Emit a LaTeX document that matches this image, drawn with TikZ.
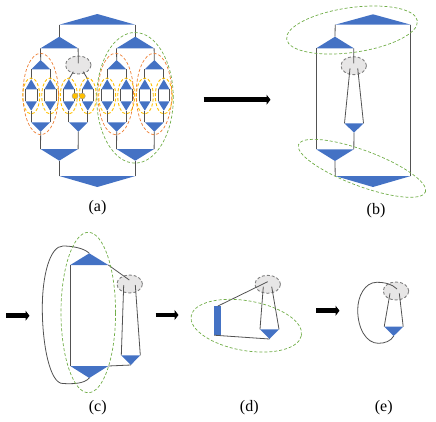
\documentclass[tikz,border=0pt]{standalone}
\usepackage{fontspec}
\setmainfont{Liberation Serif}
\usetikzlibrary{shapes.geometric,arrows.meta}
\definecolor{triblue}{HTML}{4472C4}
\definecolor{greenring}{HTML}{70AD47}
\definecolor{orangering}{HTML}{ED7D31}
\definecolor{yellowring}{HTML}{FFC000}
\definecolor{hubfill}{HTML}{E7E6E6}
\tikzset{
  wire/.style={draw=black!68,line width=0.8pt},
  trifill/.style={fill=triblue,draw=none},
  ring/.style={ellipse,draw,densely dashed,line width=0.7pt,inner sep=0pt,fill=none},
  greenloop/.style={ring,draw=greenring},
  orangeloop/.style={ring,draw=orangering},
  yellowloop/.style={ring,draw=yellowring,line width=0.9pt},
  hub/.style={ellipse,draw=black!50,densely dashed,line width=0.9pt,fill=hubfill,inner sep=0pt,minimum width=25.5pt,minimum height=18pt},
  dot/.style={circle,fill=yellowring,draw=black!40,line width=0.4pt,inner sep=0pt,minimum size=6pt},
  bigarrow/.style={-{Triangle[length=4pt,width=10pt]},line width=4.6pt,black},
  caption/.style={font=\fontsize{16}{18}\selectfont,inner sep=0pt}
}
% name, centre x, base y, apex y, half width
\newcommand{\tri}[5]{%
  \coordinate (#1-l) at ({#2-#5},#3);
  \coordinate (#1-r) at ({#2+#5},#3);
  \coordinate (#1-a) at (#2,#4);
  \fill[trifill] (#1-l) -- (#1-r) -- (#1-a) -- cycle;
}
\begin{document}
\begin{tikzpicture}[x=1pt,y=-1pt]
\useasboundingbox (0,0) rectangle (436,421);

% ---------- panel (a)
\node[hub] (hubA) at (78.3,65) {};
\tri{aT}{97.3}{24.7}{14}{38}
\tri{aZ}{97.3}{176}{187}{38}
\tri{aA}{59.3}{48.3}{36.7}{18.8}
\tri{aB}{135.3}{48.3}{36.7}{18.8}
\tri{aC}{59.3}{149}{160.7}{18.8}
\tri{aD}{135.3}{149}{160.7}{18.8}
\tri{at1}{40.7}{69.3}{60}{9.5}
\tri{at3}{116.7}{69.3}{60}{9.5}
\tri{at4}{154.3}{69.3}{60}{9.5}
\tri{as1}{40.7}{122.3}{131.7}{9.5}
\tri{as2}{78.3}{122.3}{131.7}{9.5}
\tri{as3}{116.7}{122.3}{131.7}{9.5}
\tri{as4}{154.3}{122.3}{131.7}{9.5}
\foreach \n/\x in {1/31.2,2/50.2,3/68.8,4/87.8,5/107.2,6/126.2,7/144.8,8/163.8}{
  \tri{u\n}{\x}{89.3}{79.3}{5.8}
  \tri{v\n}{\x}{101.3}{110.7}{5.8}
  \draw[wire] (u\n-l) -- (v\n-l);
  \draw[wire] (u\n-r) -- (v\n-r);
}
\draw[wire] (aT-l) -- (aA-a);
\draw[wire] (aT-r) -- (aB-a);
\draw[wire] (aZ-l) -- (aC-a);
\draw[wire] (aZ-r) -- (aD-a);
\draw[wire] (aA-l) -- (at1-a);
\draw[wire] (aA-r) -- ([shift={(0,-1.7)}]hubA.center);
\draw[wire] (aB-l) -- (at3-a);
\draw[wire] (aB-r) -- (at4-a);
\draw[wire] (aC-l) -- (as1-a);
\draw[wire] (aC-r) -- (as2-a);
\draw[wire] (aD-l) -- (as3-a);
\draw[wire] (aD-r) -- (as4-a);
\draw[wire] (at1-l) -- (u1-a);
\draw[wire] (at1-r) -- (u2-a);
\draw[wire] ([shift={(-5,6.7)}]hubA.center) -- (u3-a);
\draw[wire] ([shift={(5,6.7)}]hubA.center) -- (u4-a);
\draw[wire] (at3-l) -- (u5-a);
\draw[wire] (at3-r) -- (u6-a);
\draw[wire] (at4-l) -- (u7-a);
\draw[wire] (at4-r) -- (u8-a);
\draw[wire] (as1-l) -- (v1-a);
\draw[wire] (as1-r) -- (v2-a);
\draw[wire] (as2-l) -- (v3-a);
\draw[wire] (as2-r) -- (v4-a);
\draw[wire] (as3-l) -- (v5-a);
\draw[wire] (as3-r) -- (v6-a);
\draw[wire] (as4-l) -- (v7-a);
\draw[wire] (as4-r) -- (v8-a);
\foreach \n/\x in {1/31.2,2/50.2,3/68.8,4/87.8,5/107.2,6/126.2,7/144.8,8/163.8}
  \node[yellowloop,minimum width=17pt,minimum height=36pt] (y\n) at (\x,96) {};
\foreach \n/\x in {1/40.7,2/115.7,3/154}
  \node[orangeloop,minimum width=35.6pt,minimum height=81.4pt] (o\n) at (\x,94) {};
\node[greenloop,minimum width=76.6pt,minimum height=130.6pt] (gA) at (135,97.8) {};
\node[dot] (dot1) at (75,96) {};
\node[dot] (dot2) at (82.3,96) {};
\node[caption] (capA) at (97.5,207.5) {(a)};

% ---------- arrow a to b
\coordinate (ar1s) at (203.5,99.7);
\coordinate (ar1e) at (270.5,99.7);
\draw[bigarrow] (ar1s) -- (ar1e);

% ---------- panel (b)
\node[hub] (hubB) at (353.7,65.7) {};
\tri{bT}{373}{24.7}{14.3}{37.8}
\tri{bZ}{373}{176}{187}{37.8}
\tri{bA}{335}{48.3}{36.7}{18.8}
\tri{bC}{335}{149.3}{161}{18.8}
\tri{bS}{354}{123.3}{132.7}{9.5}
\draw[wire] (bT-l) -- (bA-a);
\draw[wire] (bT-r) -- (bZ-r);
\draw[wire] (bA-l) -- (bC-l);
\draw[wire] (bA-r) -- ([shift={(0,-2.4)}]hubB.center);
\draw[wire] ([shift={(-3.7,2.6)}]hubB.center) -- (bS-l);
\draw[wire] ([shift={(4,2.6)}]hubB.center) -- (bS-r);
\draw[wire] (bS-a) -- (bC-r);
\draw[wire] (bC-a) -- (bZ-l);
\node[greenloop,rotate=8,minimum width=132pt,minimum height=44.8pt] (gB1) at (352,30) {};
\node[greenloop,rotate=-20.5,minimum width=135.4pt,minimum height=35.6pt] (gB2) at (362,168.3) {};
\node[caption] (capB) at (376,210.7) {(b)};

% ---------- arrow to c
\coordinate (ar2s) at (6,315.7);
\coordinate (ar2e) at (29.5,315.7);
\draw[bigarrow] (ar2s) -- (ar2e);

% ---------- panel (c)
\node[hub] (hubC) at (129.7,284) {};
\tri{cA}{89.3}{265}{253.3}{19}
\tri{cC}{89.3}{366}{378}{19}
\tri{cS}{130.8}{355.3}{365}{9.5}
\draw[wire] (cA-l) -- (cC-l);
\draw[wire] (cA-r) -- ([shift={(-0.4,-4)}]hubC.center);
\draw[wire] ([shift={(-6,1)}]hubC.center) -- (cS-l);
\draw[wire] ([shift={(5.6,1)}]hubC.center) -- (cS-r);
\draw[wire] (cC-r) -- (cS-a);
\draw[wire] (cA-a) .. controls (84,248) and (72,246) .. (63,246)
  .. controls (50,246) and (42.3,275) .. (42.3,308)
  .. controls (42.3,345) and (50,384) .. (63,383.5)
  .. controls (72,384) and (84,384) .. (cC-a);
\node[greenloop,minimum width=54.6pt,minimum height=160.4pt] (gC) at (88.3,312.5) {};
\node[caption] (capC) at (97.7,407.7) {(c)};

% ---------- arrow to d
\coordinate (ar3s) at (155.7,315);
\coordinate (ar3e) at (178.5,315);
\draw[bigarrow] (ar3s) -- (ar3e);

% ---------- panel (d)
\node[hub] (hubD) at (267.7,284.3) {};
\node[fill=triblue,inner sep=0pt,minimum width=7pt,minimum height=28.7pt] (dR) at (217.8,320.65) {};
\tri{dS}{269.5}{329.3}{339}{9.5}
\draw[wire] (dR.north) -- ([shift={(0,-2.6)}]hubD.center);
\draw[wire] (dR.south west) -- (dS-a);
\draw[wire] ([shift={(-4.4,2.4)}]hubD.center) -- (dS-l);
\draw[wire] ([shift={(4,2.4)}]hubD.center) -- (dS-r);
\node[greenloop,rotate=-10,minimum width=112pt,minimum height=49.8pt] (gD) at (246.3,325.7) {};
\node[caption] (capD) at (249.3,407.7) {(d)};

% ---------- arrow to e
\coordinate (ar4s) at (316,310.7);
\coordinate (ar4e) at (339.5,310.7);
\draw[bigarrow] (ar4s) -- (ar4e);

% ---------- panel (e)
\node[hub] (hubE) at (396,291) {};
\tri{eS}{393.7}{326.7}{336}{9.5}
\draw[wire] ([shift={(-6,2.3)}]hubE.center) -- (eS-l);
\draw[wire] ([shift={(3.3,2.3)}]hubE.center) -- (eS-r);
\draw[wire] ([shift={(1,-2)}]hubE.center) .. controls (392,284) and (385,282.3) .. (376.7,282.3)
  .. controls (365,282.3) and (357.7,296) .. (357.7,310)
  .. controls (357.7,328) and (366,343.3) .. (378.3,343.3)
  .. controls (385,343.3) and (391,341) .. (eS-a);
\node[caption] (capE) at (383.7,407.7) {(e)};
\end{tikzpicture}
\end{document}
